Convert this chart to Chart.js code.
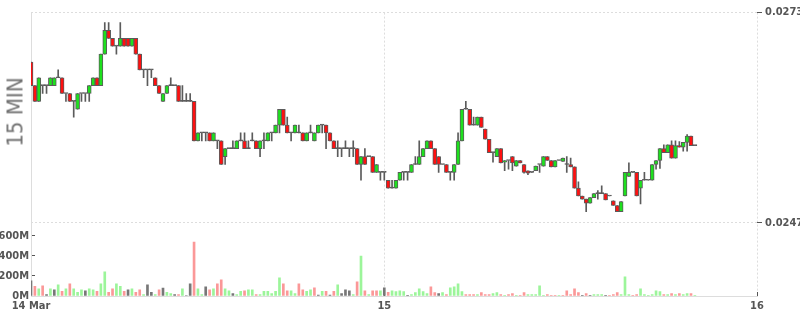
<!DOCTYPE html>
<html>
<head>
<meta charset="utf-8">
<script src="https://cdn.jsdelivr.net/npm/chart.js@4.4.0/dist/chart.umd.min.js"></script>
<style>
  html, body { margin: 0; padding: 0; background: #fff; }
  #wrap { position: relative; width: 800px; height: 315px; }
  #period {
    position: absolute; left: 15px; top: 112px;
    transform: translate(-50%, -50%) rotate(-90deg);
    font-family: "DejaVu Sans Condensed", "DejaVu Sans", sans-serif;
    font-stretch: condensed; font-size: 22px; color: #707070; white-space: nowrap;
  }
</style>
</head>
<body>
<div id="wrap">
  <canvas id="chart"></canvas>
  <div id="period">15 MIN</div>
</div>
<script>
// 15 minute candles, first one at 14 Mar 01:15 (hours from 14 Mar 00:00)
const startHour = 1.25;
const stepHour = 0.25;

const opens = [
  0.0267,0.0264,0.0262,0.0264,0.0264,0.0264,0.0264,0.0265,0.0265,0.0263,
  0.0263,0.0262,0.0261,0.0263,0.0263,0.0263,0.0264,0.0265,0.0264,0.0268,
  0.0271,0.0270,0.0269,0.0269,0.0270,0.0270,0.0269,0.0270,0.0268,0.0266,
  0.0266,0.0266,0.0265,0.0264,0.0262,0.0263,0.0264,0.0264,0.0264,0.0262,
  0.0262,0.0262,0.0262,0.0257,0.0258,0.0258,0.0258,0.0257,0.0257,0.0257,
  0.0255,0.0256,0.0256,0.0256,0.0257,0.0257,0.0256,0.0257,0.0257,0.0256,
  0.0257,0.0257,0.0258,0.0258,0.0259,0.0261,0.0259,0.0258,0.0258,0.0258,
  0.0258,0.0257,0.0258,0.0257,0.0258,0.0259,0.0259,0.0258,0.0257,0.0256,
  0.0256,0.0256,0.0256,0.0256,0.0256,0.0254,0.0255,0.0255,0.0255,0.0253,
  0.0253,0.0253,0.0252,0.0251,0.0251,0.0252,0.0253,0.0253,0.0253,0.0254,
  0.0254,0.0255,0.0256,0.0257,0.0256,0.0255,0.0254,0.0254,0.0253,0.0253,
  0.0254,0.0257,0.0261,0.0261,0.0259,0.0259,0.0260,0.02585,0.02572,0.02555,
  0.0255,0.0256,0.02543,0.02545,0.0255,0.02538,0.02545,0.0254,0.02532,0.0253,
  0.02532,0.0254,0.02538,0.0255,0.02545,0.02537,0.02545,0.02544,0.0254,0.0254,
  0.02537,0.0251,0.0250,0.02496,0.02491,0.02498,0.02503,0.02503,0.02503,0.0250,
  0.02494,0.02488,0.0248,0.0250,0.02525,0.0253,0.0253,0.0251,0.0252,0.0252,
  0.0252,0.0254,0.02545,0.0256,0.02555,0.02565,0.02548,0.02564,0.02562,0.02568,
  0.02576,0.02564
];
const highs = [
  0.0267,0.0264,0.0265,0.0264,0.0264,0.0265,0.0265,0.0266,0.0265,0.0263,
  0.0263,0.0262,0.0263,0.0263,0.0263,0.0264,0.0265,0.0265,0.0268,0.0272,
  0.0272,0.0270,0.0269,0.0272,0.0270,0.0270,0.0270,0.0270,0.0268,0.0266,
  0.0266,0.0266,0.0265,0.0264,0.0263,0.0264,0.0265,0.0264,0.0264,0.0264,
  0.0263,0.0263,0.0262,0.0258,0.0258,0.0258,0.0258,0.0258,0.0257,0.0257,
  0.0256,0.0256,0.0257,0.0257,0.0258,0.0258,0.0257,0.0258,0.0257,0.0257,
  0.0258,0.0258,0.0258,0.0259,0.0261,0.0261,0.0260,0.0258,0.0259,0.0259,
  0.0258,0.0258,0.0259,0.0258,0.0259,0.0259,0.0259,0.0258,0.0257,0.0257,
  0.0256,0.0257,0.0256,0.0257,0.0256,0.0255,0.0256,0.0255,0.0255,0.0254,
  0.0253,0.0253,0.0252,0.0252,0.0252,0.0253,0.0253,0.0253,0.0254,0.0255,
  0.0257,0.0256,0.0257,0.0257,0.0256,0.0255,0.0254,0.0254,0.0253,0.0254,
  0.0258,0.0261,0.0262,0.0261,0.0260,0.0260,0.0260,0.02585,0.02572,0.02555,
  0.0256,0.0256,0.02545,0.02545,0.0255,0.02545,0.02545,0.0254,0.02532,0.0253,
  0.02538,0.0254,0.0255,0.0255,0.02545,0.02545,0.02545,0.02548,0.0255,0.02548,
  0.02537,0.02518,0.0250,0.02496,0.02498,0.02503,0.02507,0.02513,0.02503,0.0250,
  0.02494,0.02488,0.02493,0.0253,0.02542,0.0253,0.0253,0.0252,0.0253,0.0252,
  0.0254,0.02545,0.0256,0.02565,0.02565,0.0257,0.0257,0.02569,0.02568,0.02578,
  0.02576,0.02564
];
const lows = [
  0.0264,0.0262,0.0262,0.0263,0.0263,0.0264,0.0264,0.0265,0.0263,0.0262,
  0.0262,0.0260,0.0261,0.0262,0.0262,0.0262,0.0264,0.0264,0.0264,0.0268,
  0.0270,0.0269,0.0268,0.0269,0.0269,0.0269,0.0269,0.0268,0.0266,0.0265,
  0.0264,0.0265,0.0264,0.0263,0.0262,0.0263,0.0264,0.0264,0.0262,0.0262,
  0.0262,0.0262,0.0257,0.0257,0.0257,0.0257,0.0257,0.0257,0.0256,0.0254,
  0.0254,0.0256,0.0256,0.0256,0.0257,0.0256,0.0256,0.0257,0.0256,0.0255,
  0.0256,0.0257,0.0257,0.0258,0.0258,0.0259,0.0258,0.0257,0.0258,0.0258,
  0.0257,0.0257,0.0258,0.0257,0.0258,0.0258,0.0256,0.0257,0.0256,0.0255,
  0.0255,0.0256,0.0255,0.0255,0.0254,0.0252,0.0254,0.0255,0.0253,0.0253,
  0.0252,0.0252,0.0251,0.0251,0.0251,0.0252,0.0252,0.0252,0.0253,0.0254,
  0.0254,0.0255,0.0256,0.0256,0.0254,0.0253,0.0254,0.0253,0.0252,0.0252,
  0.0254,0.0257,0.0261,0.0259,0.0259,0.0259,0.02587,0.02572,0.02555,0.02543,
  0.0255,0.02542,0.02532,0.02534,0.02532,0.02538,0.02542,0.02529,0.02527,0.0253,
  0.02532,0.0253,0.02538,0.02545,0.02537,0.02537,0.02545,0.02544,0.0253,0.02537,
  0.0251,0.0250,0.02496,0.0248,0.02491,0.02498,0.02496,0.02503,0.02495,0.0250,
  0.02488,0.0248,0.0248,0.0250,0.02525,0.0253,0.0250,0.0249,0.0252,0.0252,
  0.0252,0.02534,0.02535,0.02555,0.02555,0.02548,0.02548,0.02562,0.02557,0.02557,
  0.02564,0.02564
];
const closes = [
  0.0264,0.0262,0.0265,0.0264,0.0264,0.0265,0.0265,0.0265,0.0263,0.0263,
  0.0262,0.0262,0.0263,0.0263,0.0263,0.0264,0.0265,0.0264,0.0268,0.0271,
  0.0270,0.0269,0.0269,0.0270,0.0269,0.0269,0.0270,0.0268,0.0266,0.0266,
  0.0266,0.0266,0.0264,0.0263,0.0263,0.0264,0.0264,0.0264,0.0262,0.0262,
  0.0262,0.0262,0.0257,0.0258,0.0258,0.0258,0.0257,0.0258,0.0257,0.0254,
  0.0256,0.0256,0.0256,0.0257,0.0257,0.0256,0.0256,0.0257,0.0256,0.0257,
  0.0257,0.0258,0.0258,0.0259,0.0261,0.0259,0.0258,0.0258,0.0259,0.0258,
  0.0257,0.0258,0.0258,0.0258,0.0259,0.0259,0.0258,0.0257,0.0256,0.0256,
  0.0256,0.0256,0.0256,0.0256,0.0254,0.0255,0.0254,0.0255,0.0253,0.0254,
  0.0253,0.0253,0.0251,0.0251,0.0252,0.0253,0.0253,0.0253,0.0254,0.0254,
  0.0255,0.0256,0.0257,0.0256,0.0254,0.0254,0.0254,0.0253,0.0253,0.0254,
  0.0257,0.0261,0.0261,0.0259,0.0259,0.0260,0.02587,0.02572,0.02555,0.02555,
  0.0256,0.02542,0.02545,0.02545,0.02542,0.02545,0.02542,0.0253,0.02529,0.0253,
  0.02538,0.0254,0.0255,0.02545,0.02537,0.02545,0.02545,0.02548,0.0254,0.02537,
  0.0251,0.0250,0.02496,0.02491,0.02498,0.02503,0.02503,0.02503,0.02495,0.0250,
  0.02488,0.0248,0.02493,0.0253,0.0253,0.0253,0.0250,0.0252,0.0252,0.0252,
  0.0254,0.02545,0.0256,0.02555,0.02565,0.02548,0.02564,0.02562,0.02568,0.02576,
  0.02564,0.02564
];

// volume in millions
const volumeM = [
  151,95,72,102,13,72,62,112,46,72,
  121,72,36,62,52,72,62,46,121,240,
  36,72,121,95,46,62,72,36,62,13,
  112,36,13,62,79,36,23,13,13,72,
  5,121,535,72,13,92,62,72,121,161,
  72,52,23,13,46,52,62,62,13,13,
  46,46,23,46,181,121,52,52,23,121,
  62,46,62,82,10,46,46,10,46,112,
  23,62,52,13,141,397,52,13,52,52,
  52,82,36,52,43,52,43,3,13,33,
  72,43,23,92,33,23,33,13,82,92,
  121,43,13,13,13,13,33,13,13,23,
  33,13,3,13,23,3,3,33,13,13,
  13,102,3,13,3,3,3,3,52,13,
  72,33,2,23,2,13,13,13,2,3,
  13,33,13,190,13,3,13,72,13,3,
  13,52,43,13,13,23,13,23,13,23,
  23,3
];
// g = up, r = down, n = unchanged
const volumeDir = (
  'nrgrngngrg' + 'rgggnggrgg' + 'rrggrngrrg' + 'nngrnggnrg' +
  'nnrggnrgrr' + 'ggnggrggrg' + 'gggggrrggr' + 'rggrngrnrg' +
  'nnngrgrgrr' + 'gnrggggngg' + 'gggrrngrgg' + 'ggrrrgrrrg' +
  'grgrrgrrgg' + 'gggrrrgrrr' + 'rrnrngggnr' + 'rrgggrrggg' +
  'gggrgrgrgg' + 'rg'
).split('');

const xTickHours = [1.25, 24, 48];
const xTickLabels = ['14 Mar', '15', '16'];
const priceTicks = [0.024662, 0.027326];
const volumeTicks = [0, 200, 400, 600];

const times = opens.map((_, i) => startHour + i * stepHour);

const UP = '#1ee01e', DOWN = '#ff1010', EDGE = '#5b5b5b';
const volColors = { g: '#9cf59a', r: '#fb9898', n: '#777777' };

function candleColor(i) {
  if (closes[i] > opens[i]) return UP;
  if (closes[i] < opens[i]) return DOWN;
  return EDGE;
}

const tickFont = { family: '"DejaVu Sans Condensed", "DejaVu Sans"', size: 11, weight: 'bold' };

new Chart(document.getElementById('chart'), {
  type: 'bar',
  data: {
    datasets: [
      {
        label: 'body',
        data: times.map((t, i) => ({ x: t, y: [opens[i], closes[i]] })),
        yAxisID: 'y',
        grouped: false,
        barThickness: 4,
        minBarLength: 1,
        borderWidth: 1,
        borderSkipped: false,
        borderColor: EDGE,
        backgroundColor: times.map((_, i) => candleColor(i)),
        order: 0
      },
      {
        label: 'wick',
        data: times.map((t, i) => ({ x: t, y: [lows[i], highs[i]] })),
        yAxisID: 'y',
        grouped: false,
        barThickness: 1,
        backgroundColor: EDGE,
        order: 1
      },
      {
        label: 'volume',
        data: times.map((t, i) => ({ x: t, y: volumeM[i] })),
        yAxisID: 'yv',
        grouped: false,
        barThickness: 2,
        backgroundColor: volumeDir.map(d => volColors[d]),
        order: 2
      }
    ]
  },
  options: {
    responsive: true,
    maintainAspectRatio: false,
    animation: false,
    events: [],
    layout: { padding: { top: 10, left: 0, right: 0, bottom: 0 } },
    plugins: { legend: { display: false }, tooltip: { enabled: false } },
    scales: {
      x: {
        type: 'linear',
        min: 1.25,
        max: 48,
        offset: false,
        // tick marks point up into the plot
        grid: { offset: false, color: '#dddddd', tickColor: '#555', tickLength: -4 },
        border: { display: true, color: '#dddddd', dash: [2, 2] },
        ticks: {
          autoSkip: false, maxRotation: 0, padding: 8, color: '#555', font: tickFont,
          callback: v => xTickLabels[xTickHours.indexOf(v)] ?? ''
        },
        afterBuildTicks: s => { s.ticks = xTickHours.map(v => ({ value: v })); },
        afterFit: s => { s.height = 19; }
      },
      y: {
        position: 'right',
        min: 0.023732,
        max: 0.027326,
        beginAtZero: false,
        grid: { color: '#dddddd', tickColor: '#555', tickLength: 5 },
        border: { display: false, dash: [2, 2] },
        ticks: { padding: 3, color: '#555', font: tickFont, callback: v => v.toFixed(4) },
        afterBuildTicks: s => { s.ticks = priceTicks.map(v => ({ value: v })); },
        afterFit: s => { s.width = 43; }
      },
      yv: {
        position: 'left',
        min: 0,
        max: 2818,
        grid: { drawOnChartArea: false, tickColor: '#555', tickLength: -4 },
        border: { display: true, color: '#dddddd', dash: [2, 2] },
        ticks: { padding: 6, color: '#555', font: tickFont, callback: v => v + 'M' },
        afterBuildTicks: s => { s.ticks = volumeTicks.map(v => ({ value: v })); },
        afterFit: s => { s.width = 31; }
      }
    }
  }
});
</script>
</body>
</html>
